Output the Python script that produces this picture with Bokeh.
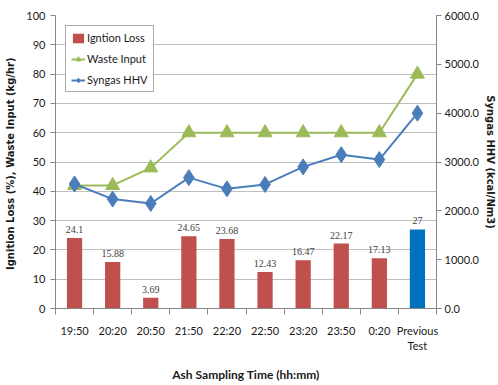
from bokeh.plotting import figure
from bokeh.models import (Range1d, LinearAxis, FixedTicker, NumeralTickFormatter,
                          Legend, LegendItem, ColumnDataSource, LabelSet)
from bokeh.embed import file_html
from bokeh.resources import INLINE

# Ash sampling times and measurements
categories = ["19:50", "20:20", "20:50", "21:50", "22:20", "22:50",
              "23:20", "23:50", "0:20", "Previous\nTest"]
ignition_loss = [24.1, 15.88, 3.69, 24.65, 23.68, 12.43, 16.47, 22.17, 17.13, 27]
waste_input = [42, 42, 48, 60, 60, 60, 60, 60, 60, 80]
syngas_hhv = [2550, 2240, 2150, 2680, 2450, 2540, 2900, 3150, 3050, 4000]

left_ticks = list(range(0, 101, 10))
right_ticks = list(range(0, 6001, 1000))

RED = "#C0504D"
PREV_BLUE = "#0070C0"
GREEN = "#9BBB59"
LINE_BLUE = "#4A7EBB"
AXIS_GRAY = "#868686"
TICK_FONT = "Lato"
TICK_SIZE = "11px"

xs = [i + 1 for i in range(len(categories))]
bar_colors = [RED] * (len(categories) - 1) + [PREV_BLUE]

src = ColumnDataSource(dict(
    x=xs,
    loss=ignition_loss,
    loss_text=[str(v) for v in ignition_loss],
    color=bar_colors,
    waste=waste_input,
    hhv=syngas_hhv,
))

p = figure(width=498, height=385, x_range=Range1d(0.5, len(categories) + 0.5),
           y_range=Range1d(0, 100), output_backend="svg", toolbar_location=None,
           min_border_left=55, min_border_right=61, min_border_top=15,
           min_border_bottom=75)
p.outline_line_color = None
p.background_fill_color = "white"
p.border_fill_color = "white"

p.extra_y_ranges = {"hhv": Range1d(0, 6000)}

# grid: horizontal lines only
p.xgrid.grid_line_color = None
p.ygrid.grid_line_color = "#BEBEBE"
p.ygrid.grid_line_width = 1

# bottom axis: labels at category centres, tick marks at boundaries
xa = p.xaxis[0]
xa.ticker = FixedTicker(ticks=xs, minor_ticks=[x - 0.5 for x in xs] + [xs[-1] + 0.5])
xa.major_label_overrides = {x: c for x, c in zip(xs, categories)}
xa.major_tick_line_color = None
xa.major_tick_out = 6
xa.minor_tick_line_color = AXIS_GRAY
xa.minor_tick_out = 6
xa.minor_tick_in = 0
xa.major_label_standoff = 9
xa.axis_line_color = AXIS_GRAY
xa.major_label_text_font = TICK_FONT
xa.major_label_text_font_size = TICK_SIZE
xa.major_label_text_color = "#1a1a1a"
xa.axis_label = "Ash Sampling Time (hh:mm)"
xa.axis_label_text_font = TICK_FONT
xa.axis_label_text_font_size = "12px"
xa.axis_label_text_font_style = "bold"
xa.axis_label_text_color = "#1a1a1a"
xa.axis_label_standoff = 12

# left axis
ya = p.yaxis[0]
ya.ticker = FixedTicker(ticks=left_ticks)
ya.axis_line_color = AXIS_GRAY
ya.major_tick_line_color = AXIS_GRAY
ya.major_tick_out = 5
ya.major_tick_in = 0
ya.minor_tick_line_color = None
ya.major_label_text_font = TICK_FONT
ya.major_label_text_font_size = TICK_SIZE
ya.major_label_text_color = "#1a1a1a"
ya.major_label_standoff = 5
ya.axis_label = "Ignition Loss (%),  Waste Input (kg/hr)"
ya.axis_label_text_font = "DejaVu Sans"
ya.axis_label_text_font_size = "10px"
ya.axis_label_text_font_style = "bold"
ya.axis_label_text_color = "#1a1a1a"
ya.axis_label_standoff = 7

# right axis for syngas heating value
ra = LinearAxis(y_range_name="hhv", ticker=FixedTicker(ticks=right_ticks),
                formatter=NumeralTickFormatter(format="0.0"))
ra.axis_line_color = AXIS_GRAY
ra.major_tick_line_color = AXIS_GRAY
ra.major_tick_out = 5
ra.major_tick_in = 0
ra.minor_tick_line_color = None
ra.major_label_text_font = TICK_FONT
ra.major_label_text_font_size = TICK_SIZE
ra.major_label_text_color = "#1a1a1a"
ra.major_label_standoff = 3
ra.axis_label = "Syngas HHV (kcal/Nm3)"
ra.axis_label_text_font = "DejaVu Sans"
ra.axis_label_text_font_size = "10px"
ra.axis_label_text_font_style = "bold"
ra.axis_label_text_color = "#1a1a1a"
ra.axis_label_standoff = 3
p.add_layout(ra, "right")

# ignition loss bars with value labels
bars = p.vbar(x="x", top="loss", width=0.4, fill_color="color", line_color=None, source=src)
p.add_layout(LabelSet(x="x", y="loss", text="loss_text", source=src, y_offset=5,
                      text_align="center", text_baseline="bottom",
                      text_font=TICK_FONT, text_font_size="10px", text_color="#404040"))

# waste input line
wl = p.line(x="x", y="waste", source=src, line_color=GREEN, line_width=2)
wm = p.scatter(x="x", y="waste", source=src, marker="triangle", size=14,
               fill_color=GREEN, line_color=GREEN)

# syngas HHV line on the right axis
hl = p.line(x="x", y="hhv", source=src, y_range_name="hhv", line_color=LINE_BLUE, line_width=2)
hm = p.scatter(x="x", y="hhv", source=src, y_range_name="hhv", marker="diamond", size=16,
               fill_color=LINE_BLUE, line_color=LINE_BLUE)

legend = Legend(items=[
    LegendItem(label="Igntion Loss", renderers=[bars]),
    LegendItem(label="Waste Input", renderers=[wl, wm]),
    LegendItem(label="Syngas HHV", renderers=[hl, hm]),
], location="top_left")
legend.margin = 10
legend.padding = 5
legend.spacing = 8
legend.glyph_width = 14
legend.glyph_height = 12
legend.label_height = 12
legend.label_standoff = 2
legend.label_text_font = TICK_FONT
legend.label_text_font_size = "11px"
legend.label_text_color = "#1a1a1a"
legend.border_line_color = "#555555"
legend.border_line_width = 1
legend.background_fill_color = "white"
legend.background_fill_alpha = 1
p.add_layout(legend, "center")

open("out.html", "w").write(file_html(p, INLINE))
